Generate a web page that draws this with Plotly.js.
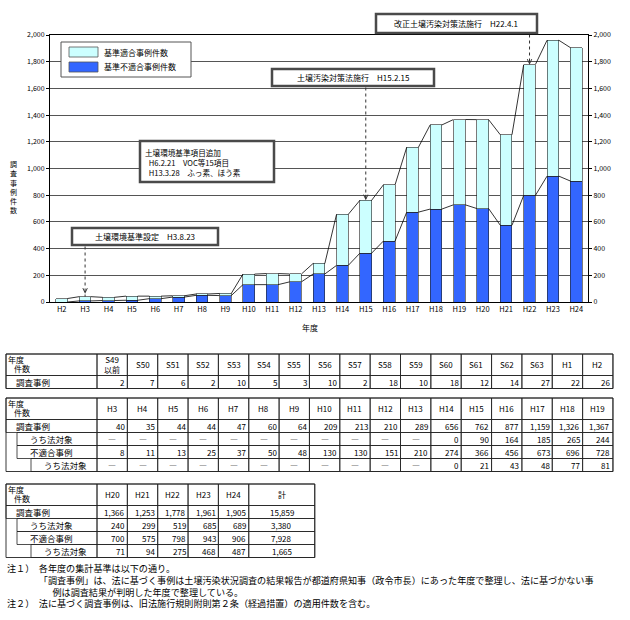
<!DOCTYPE html>
<html>
<head>
<meta charset="utf-8">
<script src="https://cdn.plot.ly/plotly-3.0.1.min.js"></script>
<style>body{margin:0;background:#fff}</style>
</head>
<body>
<div id="chart" style="width:630px;height:620px"></div>
<script>
// chart data (H2 - H24)
var years = ['H2','H3','H4','H5','H6','H7','H8','H9','H10','H11','H12','H13','H14','H15','H16','H17','H18','H19','H20','H21','H22','H23','H24'];
var totalCases = [26,40,35,44,44,47,60,64,209,213,210,289,656,762,877,1159,1326,1367,1366,1253,1778,1961,1905];
var unfitCases = [0,8,11,13,25,37,50,48,130,130,151,210,274,366,456,673,696,728,700,575,798,943,906];
var fitCases = totalCases.map(function(v, i){ return v - unfitCases[i]; });

// table data
var t1Years = ['S49<br>以前','S50','S51','S52','S53','S54','S55','S56','S57','S58','S59','S60','S61','S62','S63','H1','H2'];
var t1Survey = [2,7,6,2,10,5,3,10,2,18,10,18,12,14,27,22,26];

var t2Years = ['H3','H4','H5','H6','H7','H8','H9','H10','H11','H12','H13','H14','H15','H16','H17','H18','H19'];
var t2Survey = [40,35,44,44,47,60,64,209,213,210,289,656,762,877,1159,1326,1367];
var t2SurveyLaw = [null,null,null,null,null,null,null,null,null,null,null,0,90,164,185,265,244];
var t2Unfit = [8,11,13,25,37,50,48,130,130,151,210,274,366,456,673,696,728];
var t2UnfitLaw = [null,null,null,null,null,null,null,null,null,null,null,0,21,43,48,77,81];

var t3Years = ['H20','H21','H22','H23','H24','計'];
var t3Survey = [1366,1253,1778,1961,1905,15859];
var t3SurveyLaw = [240,299,519,685,689,3380];
var t3Unfit = [700,575,798,943,906,7928];
var t3UnfitLaw = [71,94,275,468,487,1665];

var FONT = 'Noto Sans CJK JP, Noto Sans, sans-serif';
var BW = 0.5;
// plot area in pixels
var L = 50, R = 588, T = 35, B = 302;
function px(x){ return (x - L) / (R - L); }
function py(y){ return (B - y) / (B - T); }

var shapes = [];
var annos = [];

function rect(x0, y0, x1, y1, lw, lc, fill){
  shapes.push({type:'rect', xref:'paper', yref:'paper', x0:px(x0), x1:px(x1), y0:py(y0), y1:py(y1),
    line:{width:lw, color:lc}, fillcolor:fill || 'rgba(0,0,0,0)', layer:'above'});
}
function txt(x, y, s, size, anchor, align, yanchor){
  annos.push({xref:'paper', yref:'paper', x:px(x), y:py(y), text:s, showarrow:false,
    xanchor:anchor || 'left', yanchor:yanchor || 'middle', align:align || anchor || 'left', borderpad:0,
    font:{family:FONT, size:size || 8, color:'#000'}});
}
function fmt(v){
  if (v === null) return '―';
  return String(v).replace(/\B(?=(\d{3})+(?!\d))/g, ',');
}

// series lines between bars
function joinLine(vals){
  var x = [], y = [];
  for (var i = 0; i < vals.length - 1; i++) {
    x.push(i + BW / 2, i + 1 - BW / 2, null);
    y.push(vals[i], vals[i + 1], null);
  }
  return {x: x, y: y};
}
var topLine = joinLine(totalCases);
var midLine = joinLine(unfitCases);
var xs = years.map(function(_, i){ return i; });

var data = [
  {type:'bar', x:xs, y:unfitCases, width:BW, name:'基準不適合事例件数',
   marker:{color:'#3366ff', line:{color:'#222', width:0.6}}, hoverinfo:'skip'},
  {type:'bar', x:xs, y:fitCases, width:BW, name:'基準適合事例件数',
   marker:{color:'#ccffff', line:{color:'#222', width:0.6}}, hoverinfo:'skip'},
  {type:'scatter', mode:'lines', x:topLine.x, y:topLine.y, yaxis:'y2', connectgaps:false,
   line:{color:'#000', width:0.8}, hoverinfo:'skip'},
  {type:'scatter', mode:'lines', x:midLine.x, y:midLine.y, yaxis:'y2', connectgaps:false,
   line:{color:'#000', width:0.8}, hoverinfo:'skip'}
];

// legend box
rect(61, 42, 191, 77, 1, '#555', '#fff');
rect(69, 47, 98, 57, 0.8, '#555', '#ccffff');
rect(69, 62, 98, 72, 0.8, '#555', '#3366ff');
txt(103, 52, '基準適合事例件数', 8);
txt(103, 67, '基準不適合事例件数', 8);

// note boxes with arrows
var boxCol = '#4a4a4a';
rect(72, 228, 218, 245, 2.5, boxCol, '#fff');
txt(145, 236.5, '土壌環境基準設定　H3.8.23', 8, 'center');
rect(140, 141, 274, 182, 2.5, boxCol, '#fff');
txt(144, 162, '土壌環境基準項目追加<br>\u2002H6.2.21　VOC等15項目<br>\u2002H13.3.28　ふっ素、ほう素', 7.6, 'left');
rect(272, 69, 434, 86, 2.5, boxCol, '#fff');
txt(353, 77.5, '土壌汚染対策法施行　H15.2.15', 8, 'center');
rect(376, 14, 537, 33, 2.5, boxCol, '#fff');
txt(456, 23.5, '改正土壌汚染対策法施行　H22.4.1', 8, 'center');

function pointer(idx, boxBottom, gap){
  shapes.push({type:'line', xref:'x', yref:'y', x0:idx, x1:idx,
    y0:py(boxBottom + 1.5) * 2000, y1:totalCases[idx],
    line:{color:'#333', width:1, dash:'dot'}});
  annos.push({xref:'x', yref:'y', x:idx, y:totalCases[idx], ax:0, ay:-7, text:'',
    showarrow:true, arrowhead:5, arrowsize:1, arrowwidth:0.9, arrowcolor:'#333', standoff:gap});
}
pointer(1, 245, 3);
pointer(13, 86, 0);
pointer(20, 33, 0);

// axis titles
var yTitle = '調査事例件数'.split('');
yTitle.forEach(function(c, i){ txt(13, 164 + i * 9.3, c, 7, 'center'); });
txt(310, 327, '年度', 8, 'center');

// tables
var RH = 13, HH = 21.5;
function dataEdges(n, w, lastW){
  var e = [97];
  for (var i = 0; i < n; i++) e.push(e[i] + (lastW && i === n - 1 ? lastW : w));
  return e;
}
function drawTable(top, heads, rows, edges){
  var bottom = top + HH + RH * rows.length;
  // header
  rect(6, top, 97, top + HH, 0.8, '#222');
  txt(7, top + 5, '年度', 8);
  txt(13, top + 14.5, '件数', 8);
  heads.forEach(function(h, i){
    rect(edges[i], top, edges[i + 1], top + HH, 0.8, '#222');
    txt((edges[i] + edges[i + 1]) / 2, top + HH / 2, h, 8, 'center');
  });
  rows.forEach(function(r, j){
    var y0 = top + HH + RH * j, y1 = y0 + RH;
    rect(r.box, y0, 97, y1, 0.8, '#222');
    txt(r.tx, (y0 + y1) / 2, r.label, 8.5);
    r.vals.forEach(function(v, i){
      rect(edges[i], y0, edges[i + 1], y1, 0.8, '#222');
      if (v === null) txt((edges[i] + edges[i + 1]) / 2, (y0 + y1) / 2, fmt(v), 8, 'center');
      else if (r.center && r.center[i]) txt((edges[i] + edges[i + 1]) / 2, (y0 + y1) / 2, fmt(v), 8, 'center');
      else txt(edges[i + 1] - 1.5, (y0 + y1) / 2, fmt(v), 8, 'right');
    });
  });
  rect(6, top, edges[edges.length - 1], bottom, 0.9, '#222');
}

var e17 = dataEdges(17, 30.35);
drawTable(354, t1Years, [
  {label:'調査事例', box:6, tx:15, vals:t1Survey}
], e17);
drawTable(398, t2Years, [
  {label:'調査事例', box:6, tx:15, vals:t2Survey},
  {label:'うち法対象', box:17, tx:29, vals:t2SurveyLaw},
  {label:'不適合事例', box:17, tx:29, vals:t2Unfit},
  {label:'うち法対象', box:31, tx:43, vals:t2UnfitLaw}
], e17);
var e6 = dataEdges(6, 30.35, 66);
var lastCenter = [false,false,false,false,false,true];
drawTable(484, t3Years, [
  {label:'調査事例', box:6, tx:15, vals:t3Survey, center:lastCenter},
  {label:'うち法対象', box:17, tx:29, vals:t3SurveyLaw, center:lastCenter},
  {label:'不適合事例', box:17, tx:29, vals:t3Unfit, center:lastCenter},
  {label:'うち法対象', box:31, tx:43, vals:t3UnfitLaw, center:lastCenter}
], e6);

// notes (one text block, full-width spaces keep the indents)
var notes = [
  '注１）　各年度の集計基準は以下の通り。',
  '　　　　「調査事例」は、法に基づく事例は土壌汚染状況調査の結果報告が都道府県知事（政令市長）にあった年度で整理し、法に基づかない事',
  '　　　　　例は調査結果が判明した年度で整理している。',
  '注２）　法に基づく調査事例は、旧法施行規則附則第２条（経過措置）の適用件数を含む。'
];
txt(6, 559.5, notes.join('<br>'), 9.1, 'left', 'left', 'top');

var yAxisBase = {range:[0, 2000], dtick:200, tickformat:',d', ticks:'outside', ticklen:3,
  tickcolor:'#000', showline:true, linecolor:'#000', linewidth:1, zeroline:false,
  tickfont:{family:FONT, size:7, color:'#000'}, fixedrange:true};

var layout = {
  width:630, height:620,
  margin:{l:L, r:630 - R, t:T, b:620 - B, pad:0},
  paper_bgcolor:'#fff', plot_bgcolor:'#fff',
  font:{family:FONT, color:'#000'},
  barmode:'stack', showlegend:false,
  xaxis:{range:[-0.5, 22.5], tickvals:xs, ticktext:years, ticks:'', showline:true,
    linecolor:'#000', linewidth:1, mirror:true, showgrid:false, zeroline:false,
    tickfont:{family:FONT, size:7.5, color:'#000'}, fixedrange:true},
  yaxis:Object.assign({}, yAxisBase, {side:'left', showgrid:true, gridcolor:'#555', gridwidth:1}),
  yaxis2:Object.assign({}, yAxisBase, {side:'right', overlaying:'y', showgrid:false}),
  shapes:shapes,
  annotations:annos
};

Plotly.newPlot('chart', data, layout, {displayModeBar:false, staticPlot:true});
</script>
</body>
</html>
